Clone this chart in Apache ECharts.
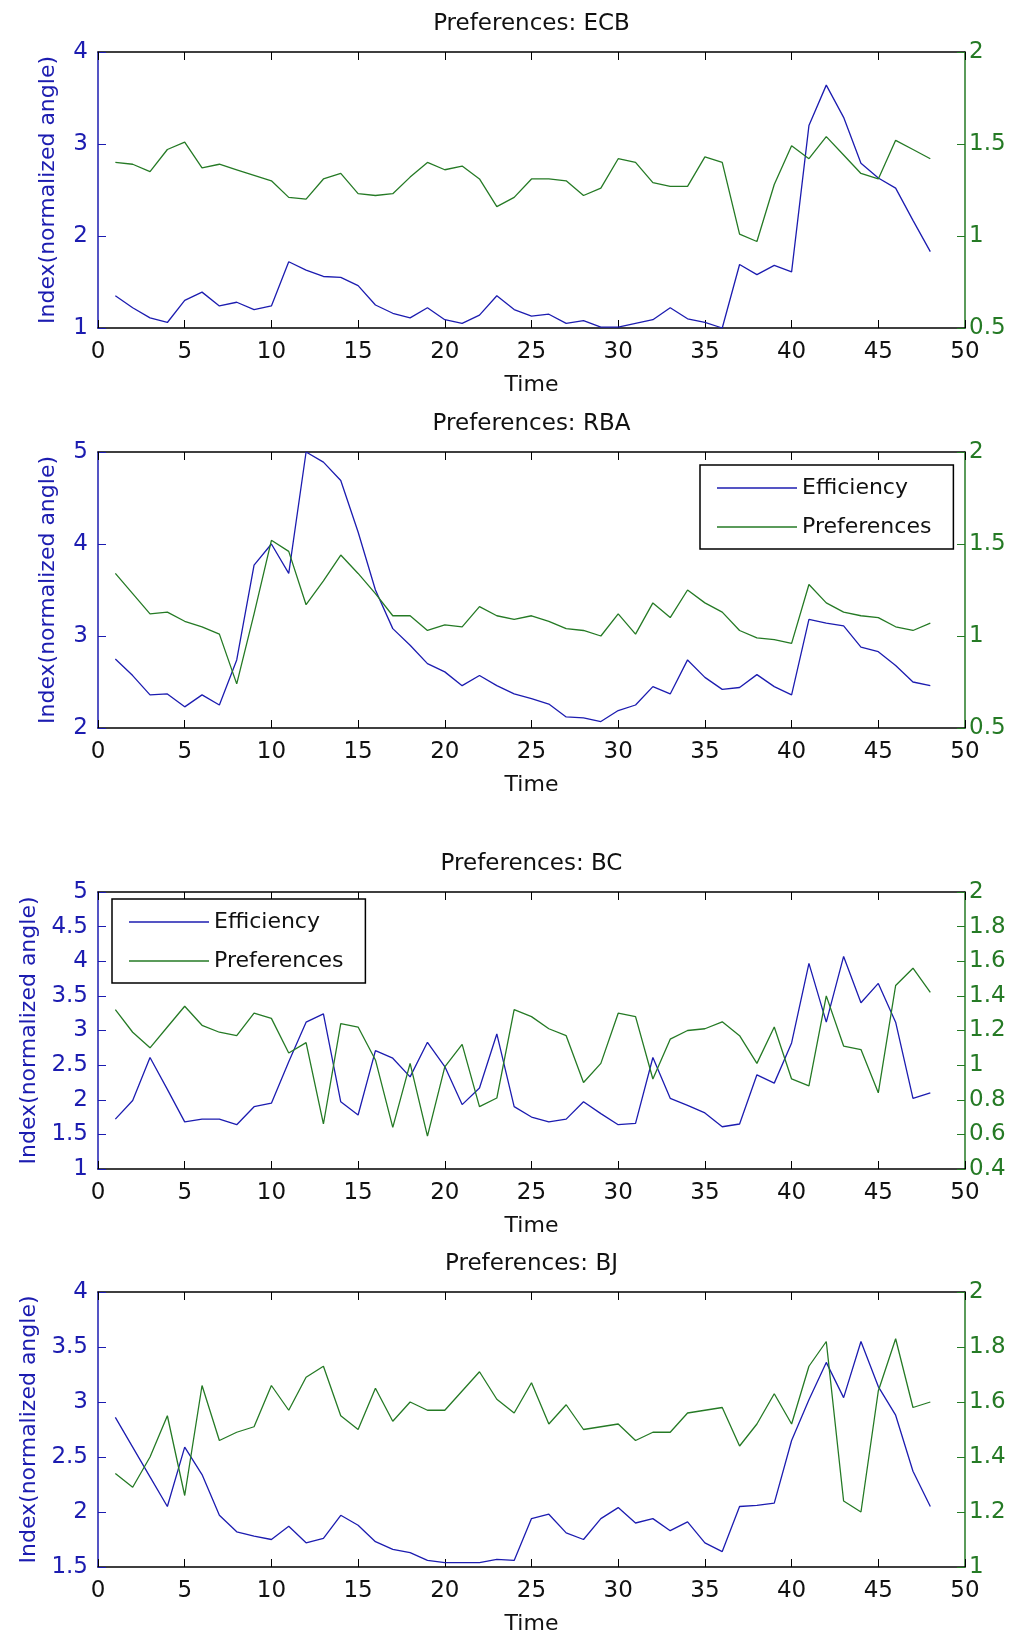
<!DOCTYPE html>
<html>
<head>
<meta charset="utf-8">
<script src="https://cdn.jsdelivr.net/npm/echarts@6/dist/echarts.min.js"></script>
<style>
  html, body { margin: 0; padding: 0; background: #fff; }
  #chart { width: 1011px; height: 1637px; }
</style>
</head>
<body>
<div id="chart"></div>
<script>
// time steps 1..48
const time = [1, 2, 3, 4, 5, 6, 7, 8, 9, 10, 11, 12, 13, 14, 15, 16, 17, 18, 19, 20, 21, 22, 23, 24,
  25, 26, 27, 28, 29, 30, 31, 32, 33, 34, 35, 36, 37, 38, 39, 40, 41, 42, 43, 44, 45, 46, 47, 48]

const ecbEff = [1.35, 1.22, 1.11, 1.06, 1.30, 1.39, 1.24, 1.28, 1.20, 1.24, 1.72, 1.63, 1.56, 1.55, 1.46, 1.25,
  1.16, 1.11, 1.22, 1.09, 1.05, 1.14, 1.35, 1.20, 1.13, 1.15, 1.05, 1.08, 1.01, 1.01, 1.05, 1.09,
  1.22, 1.10, 1.06, 1.00, 1.69, 1.58, 1.68, 1.61, 3.20, 3.64, 3.29, 2.79, 2.63, 2.52, 2.17, 1.83]
const ecbPref = [1.40, 1.39, 1.35, 1.47, 1.51, 1.37, 1.39, 1.36, 1.33, 1.30, 1.21, 1.20, 1.31, 1.34, 1.23, 1.22,
  1.23, 1.32, 1.40, 1.36, 1.38, 1.31, 1.16, 1.21, 1.31, 1.31, 1.30, 1.22, 1.26, 1.42, 1.40, 1.29,
  1.27, 1.27, 1.43, 1.40, 1.01, 0.97, 1.28, 1.49, 1.42, 1.54, 1.44, 1.34, 1.31, 1.52, 1.47, 1.42]

const rbaEff = [2.75, 2.57, 2.36, 2.37, 2.23, 2.36, 2.25, 2.74, 3.77, 4.00, 3.68, 5.00, 4.89, 4.69, 4.13, 3.50,
  3.08, 2.90, 2.70, 2.61, 2.46, 2.57, 2.46, 2.37, 2.32, 2.26, 2.12, 2.11, 2.07, 2.19, 2.25, 2.45,
  2.37, 2.74, 2.55, 2.42, 2.44, 2.58, 2.45, 2.36, 3.18, 3.14, 3.11, 2.88, 2.83, 2.68, 2.50, 2.46]
const rbaPref = [1.34, 1.23, 1.12, 1.13, 1.08, 1.05, 1.01, 0.74, 1.12, 1.52, 1.46, 1.17, 1.30, 1.44, 1.34, 1.23,
  1.11, 1.11, 1.03, 1.06, 1.05, 1.16, 1.11, 1.09, 1.11, 1.08, 1.04, 1.03, 1.00, 1.12, 1.01, 1.18,
  1.10, 1.25, 1.18, 1.13, 1.03, 0.99, 0.98, 0.96, 1.28, 1.18, 1.13, 1.11, 1.10, 1.05, 1.03, 1.07]

const bcEff = [1.72, 1.99, 2.61, 2.15, 1.68, 1.72, 1.72, 1.64, 1.90, 1.95, 2.55, 3.12, 3.24, 1.97, 1.78, 2.71,
  2.60, 2.33, 2.83, 2.48, 1.93, 2.17, 2.95, 1.90, 1.75, 1.68, 1.72, 1.97, 1.80, 1.64, 1.66, 2.61,
  2.02, 1.92, 1.81, 1.61, 1.65, 2.36, 2.24, 2.82, 3.97, 3.12, 4.07, 3.40, 3.68, 3.12, 2.02, 2.10]
const bcPref = [1.32, 1.19, 1.10, 1.22, 1.34, 1.23, 1.19, 1.17, 1.30, 1.27, 1.07, 1.13, 0.66, 1.24, 1.22, 1.03,
  0.64, 1.01, 0.59, 0.99, 1.12, 0.76, 0.81, 1.32, 1.28, 1.21, 1.17, 0.90, 1.01, 1.30, 1.28, 0.92,
  1.15, 1.20, 1.21, 1.25, 1.17, 1.01, 1.22, 0.92, 0.88, 1.40, 1.11, 1.09, 0.84, 1.46, 1.56, 1.42]

const bjEff = [2.86, 2.59, 2.32, 2.05, 2.59, 2.34, 1.97, 1.82, 1.78, 1.75, 1.87, 1.72, 1.76, 1.97, 1.88, 1.73,
  1.66, 1.63, 1.56, 1.54, 1.54, 1.54, 1.57, 1.56, 1.94, 1.98, 1.81, 1.75, 1.94, 2.04, 1.90, 1.94,
  1.83, 1.91, 1.72, 1.64, 2.05, 2.06, 2.08, 2.65, 3.02, 3.36, 3.04, 3.55, 3.14, 2.88, 2.37, 2.05]
const bjPref = [1.34, 1.29, 1.40, 1.55, 1.26, 1.66, 1.46, 1.49, 1.51, 1.66, 1.57, 1.69, 1.73, 1.55, 1.50, 1.65,
  1.53, 1.60, 1.57, 1.57, 1.64, 1.71, 1.61, 1.56, 1.67, 1.52, 1.59, 1.50, 1.51, 1.52, 1.46, 1.49,
  1.49, 1.56, 1.57, 1.58, 1.44, 1.52, 1.63, 1.52, 1.73, 1.82, 1.24, 1.20, 1.64, 1.83, 1.58, 1.60]

const titles = ['Preferences: ECB', 'Preferences: RBA', 'Preferences: BC', 'Preferences: BJ']
const effSeries = [ecbEff, rbaEff, bcEff, bjEff]
const prefSeries = [ecbPref, rbaPref, bcPref, bjPref]
// [min, max, interval] for left (efficiency) and right (preferences) axes
const leftRange = [[1, 4, 1], [2, 5, 1], [1, 5, 0.5], [1.5, 4, 0.5]]
const rightRange = [[0.5, 2, 0.5], [0.5, 2, 0.5], [0.4, 2, 0.2], [1, 2, 0.2]]

const BLUE = '#1c1cb0'
const GREEN = '#257a25'
const FONT = '"DejaVu Sans", "Liberation Sans", sans-serif'
const LINE_ICON = 'path://M0,0 L80,0 L80,1.4 L0,1.4 Z'

// plot boxes (px)
const panels = [
  { top: 52, height: 276 },
  { top: 452, height: 276 },
  { top: 892, height: 277 },
  { top: 1292, height: 275 }
]
const plotLeft = 98
const plotRight = 965

const chart = echarts.init(document.getElementById('chart'), null, { renderer: 'canvas' })

const grid = []
const xAxis = []
const yAxis = []
const series = []
const title = []

panels.forEach((p, i) => {
  grid.push({ left: plotLeft, width: plotRight - plotLeft, top: p.top, height: p.height, containLabel: false })

  title.push({
    text: titles[i],
    left: (plotLeft + plotRight) / 2,
    top: p.top - 39,
    textAlign: 'center',
    padding: 0,
    textStyle: { fontFamily: FONT, fontSize: 23, fontWeight: 'normal', color: '#111' }
  })

  // bottom x axis
  xAxis.push({
    type: 'value', gridIndex: i, min: 0, max: 50, interval: 5, position: 'bottom',
    name: 'Time', nameLocation: 'middle', nameGap: 46,
    nameTextStyle: { fontFamily: FONT, fontSize: 22, color: '#111' },
    axisLine: { onZero: false, lineStyle: { color: '#000', width: 1.5 } },
    axisTick: { inside: true, length: 8, lineStyle: { color: '#000' } },
    axisLabel: { fontFamily: FONT, fontSize: 23, color: '#111', margin: 13 },
    splitLine: { show: false }
  })
  // top border with mirrored ticks
  xAxis.push({
    type: 'value', gridIndex: i, min: 0, max: 50, interval: 5, position: 'top',
    axisLine: { onZero: false, lineStyle: { color: '#000', width: 1.5 } },
    axisTick: { inside: true, length: 8, lineStyle: { color: '#000' } },
    axisLabel: { show: false },
    splitLine: { show: false }
  })

  const lr = leftRange[i]
  const rr = rightRange[i]
  yAxis.push({
    type: 'value', gridIndex: i, position: 'left', min: lr[0], max: lr[1], interval: lr[2],
    name: 'Index(normalized angle)', nameLocation: 'middle', nameGap: 39, nameRotate: 90,
    nameTextStyle: { fontFamily: FONT, fontSize: 22, color: BLUE },
    axisLine: { show: true, onZero: false, lineStyle: { color: BLUE, width: 1.5 } },
    axisTick: { show: true, inside: true, length: 8 },
    axisLabel: { fontFamily: FONT, fontSize: 23, color: BLUE, margin: 10 },
    splitLine: { show: false }
  })
  yAxis.push({
    type: 'value', gridIndex: i, position: 'right', min: rr[0], max: rr[1], interval: rr[2],
    axisLine: { show: true, onZero: false, lineStyle: { color: GREEN, width: 1.5 } },
    axisTick: { show: true, inside: true, length: 8 },
    axisLabel: { fontFamily: FONT, fontSize: 23, color: GREEN, margin: 4 },
    splitLine: { show: false }
  })

  series.push({
    name: 'Efficiency', type: 'line', xAxisIndex: i * 2, yAxisIndex: i * 2,
    data: time.map((t, k) => [t, effSeries[i][k]]),
    symbol: 'none', lineStyle: { color: BLUE, width: 1.3 }, itemStyle: { color: BLUE }
  })
  series.push({
    name: 'Preferences', type: 'line', xAxisIndex: i * 2, yAxisIndex: i * 2 + 1,
    data: time.map((t, k) => [t, prefSeries[i][k]]),
    symbol: 'none', lineStyle: { color: GREEN, width: 1.3 }, itemStyle: { color: GREEN }
  })
})

function makeLegend(left, top) {
  return {
    data: [
      { name: 'Efficiency', icon: LINE_ICON, itemStyle: { color: BLUE } },
      { name: 'Preferences', icon: LINE_ICON, itemStyle: { color: GREEN } }
    ],
    orient: 'vertical', left: left, top: top,
    padding: [11, 22, 10, 17],
    itemWidth: 80, itemHeight: 24, itemGap: 15,
    borderColor: '#000', borderWidth: 1.5, backgroundColor: '#fff',
    selectedMode: false,
    textStyle: { fontFamily: FONT, fontSize: 22, color: '#111', lineHeight: 24 }
  }
}

chart.setOption({
  animation: false,
  backgroundColor: '#fff',
  title: title,
  legend: [makeLegend(700, 465), makeLegend(112, 899)],
  grid: grid,
  xAxis: xAxis,
  yAxis: yAxis,
  series: series
})
</script>
</body>
</html>
